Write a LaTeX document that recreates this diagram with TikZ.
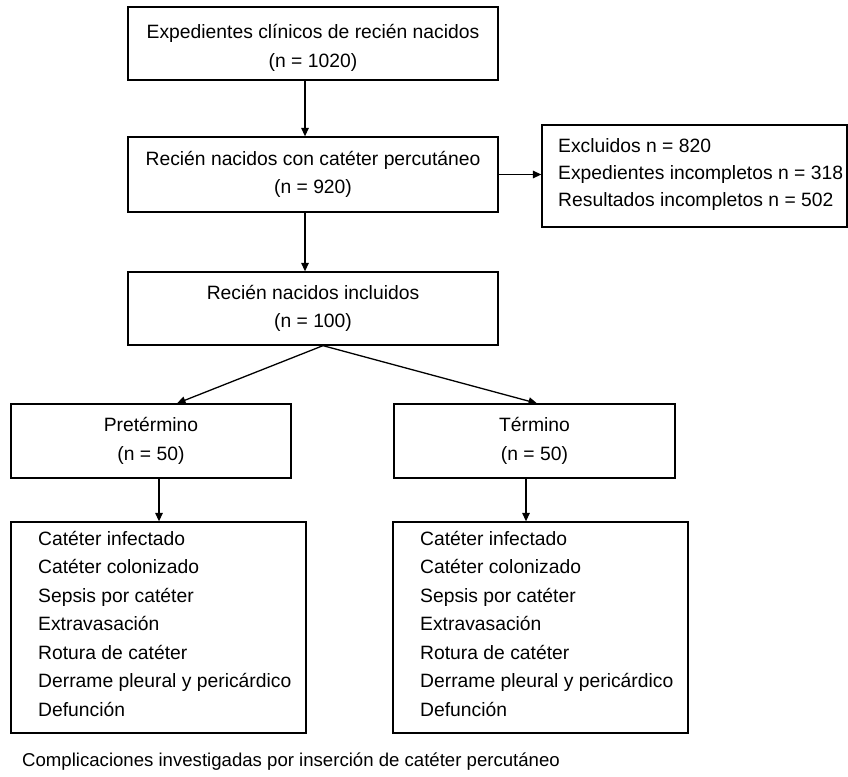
\documentclass[tikz,border=0pt]{standalone}
\usepackage{fontspec}
\setmainfont{Liberation Sans}
\usetikzlibrary{arrows.meta}
\begin{document}
\begin{tikzpicture}[x=1pt,y=-1pt,
  every node/.style={font=\fontsize{19.3}{28.5}\selectfont, text=black},
  cbox/.style={draw, line width=1.3pt, inner sep=0pt, align=center},
  plainbox/.style={draw, line width=1.3pt, inner sep=0pt},
  txt/.style={inner sep=0pt, align=left, anchor=west},
  ctxt/.style={inner sep=0pt, align=center},
  arr/.style={line width=1.3pt, -{Triangle[length=8.5pt,width=7.5pt]}}]
\useasboundingbox (0,0) rectangle (848,776);

% main column
\node[plainbox, minimum width=370pt, minimum height=73pt] (b1) at (313,43.5) {};
\node[ctxt] (b1text) at (313,48)
  {Expedientes clínicos de recién nacidos\\(n = 1020)};
\node[cbox, minimum width=370pt, minimum height=75pt] (b2) at (313,174.5)
  {Recién nacidos con catéter percutáneo\\(n = 920)};
\node[cbox, minimum width=370pt, minimum height=73pt] (b3) at (313,308.5)
  {Recién nacidos incluidos\\(n = 100)};

% excluded
\node[plainbox, minimum width=305pt, minimum height=102pt] (excl) at (694.5,176) {};
\node[txt, font=\fontsize{19.3}{27}\selectfont] (excltext) at (558,175)
  {Excluidos n = 820\\Expedientes incompletos n = 318\\Resultados incompletos n = 502};

% groups
\node[cbox, minimum width=280pt, minimum height=74pt] (pret) at (151,441)
  {Pretérmino\\(n = 50)};
\node[cbox, minimum width=281pt, minimum height=74pt] (term) at (534.5,441)
  {Término\\(n = 50)};

% lists
\node[plainbox, minimum width=295pt, minimum height=211pt] (listL) at (158.5,627.5) {};
\node[txt] (listLtext) at (38,623.5)
  {Catéter infectado\\Catéter colonizado\\Sepsis por catéter\\Extravasación\\Rotura de catéter\\Derrame pleural y pericárdico\\Defunción};
\node[plainbox, minimum width=295pt, minimum height=211pt] (listR) at (540.5,627.5) {};
\node[txt] (listRtext) at (420,623.5)
  {Catéter infectado\\Catéter colonizado\\Sepsis por catéter\\Extravasación\\Rotura de catéter\\Derrame pleural y pericárdico\\Defunción};

% caption
\node[txt, font=\fontsize{18.6}{22}\selectfont] (cap) at (22,762)
  {Complicaciones investigadas por inserción de catéter percutáneo};

% connector x positions
\coordinate (ax) at (305,0);
\coordinate (sx) at (323,0);
\coordinate (plx) at (177,0);
\coordinate (prx) at (537,0);
\coordinate (pdx) at (159,0);
\coordinate (tdx) at (526,0);

\draw[arr] (b1.south -| ax) -- (b2.north -| ax);
\draw[arr] (b2.south -| ax) -- (b3.north -| ax);
\draw[arr] (b2.east) -- (b2.east -| excl.west);
\draw[arr] (b3.south -| sx) -- (pret.north -| plx);
\draw[arr] (b3.south -| sx) -- (term.north -| prx);
\draw[arr] (pret.south -| pdx) -- (listL.north -| pdx);
\draw[arr] (term.south -| tdx) -- (listR.north -| tdx);
\end{tikzpicture}
\end{document}
